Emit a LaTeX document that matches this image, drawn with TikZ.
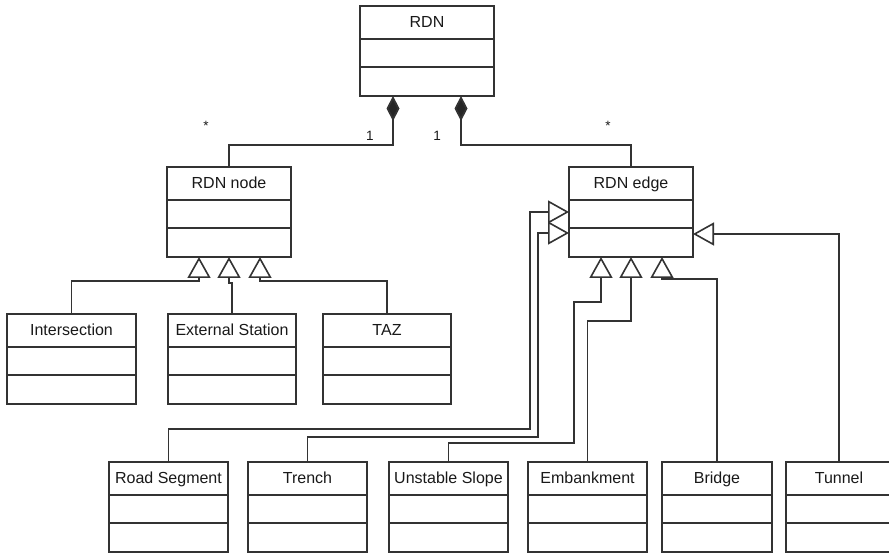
\documentclass[tikz,border=0pt]{standalone}
\usepackage{fontspec}
\setmainfont{Liberation Sans}
\usetikzlibrary{arrows.meta}
\tikzset{
  umlline/.style={draw=black!80, line width=1.8pt},
  umlbox/.style={umlline, rectangle, inner sep=0pt, outer sep=0pt, minimum height=90pt, fill=white},
  umllabel/.style={inner sep=0pt, text=black!90, font=\fontsize{16}{19}\selectfont},
  multlabel/.style={inner sep=0pt, text=black!90, font=\fontsize{13.5}{16}\selectfont},
  gen/.style={umlline, line join=miter, -{Triangle[open, length=21pt, width=23pt, line width=1.6pt]}},
  comp/.style={umlline, -{Diamond[length=25pt, width=13pt, fill=black!85]}}
}
\newcommand{\umlclassbox}[5]{%
  \node[umlbox, minimum width=#4, anchor=north west] (#1) at (#2,#3) {};
  \draw[umlline] ([yshift=-33pt]#1.north west) -- ([yshift=-33pt]#1.north east);
  \draw[umlline] ([yshift=-61pt]#1.north west) -- ([yshift=-61pt]#1.north east);
  \node[umllabel, anchor=base] (#1-t) at ([yshift=-21.5pt]#1.north) {#5};
}
\begin{document}
\begin{tikzpicture}[x=1pt, y=-1pt]
\useasboundingbox (0,0) rectangle (889,553);
\clip (0,0) rectangle (889,553);
\fill[white] (0,0) rectangle (889,553);

% boxes
\umlclassbox{rdn}{360}{6}{134pt}{RDN}
\umlclassbox{rnode}{167}{167}{124pt}{RDN node}
\umlclassbox{edge}{569}{167}{124pt}{RDN edge}
\umlclassbox{inter}{7}{314}{129pt}{Intersection}
\umlclassbox{ext}{168}{314}{128pt}{External Station}
\umlclassbox{taz}{323}{314}{128pt}{TAZ}
\umlclassbox{road}{109}{462}{119pt}{Road Segment}
\umlclassbox{trench}{248}{462}{119pt}{Trench}
\umlclassbox{slope}{389}{462}{119pt}{Unstable Slope}
\umlclassbox{emb}{528}{462}{119pt}{Embankment}
\umlclassbox{bridge}{662}{462}{110pt}{Bridge}
\umlclassbox{tunnel}{786}{462}{106pt}{Tunnel}

% compositions
\draw[comp] (rnode.north) |- (393,145) -- ([xshift=-34pt]rdn.south);
\draw[comp] (edge.north) |- (461,145) -- ([xshift=34pt]rdn.south);
\node[multlabel, anchor=base] (m1) at (370,141) {1};
\node[multlabel, anchor=base] (m2) at (437,141) {1};
\node[multlabel, anchor=base] (s1) at (206,131) {*};
\node[multlabel, anchor=base] (s2) at (608,131) {*};

% generalizations to RDN node
\draw[gen] (inter.north) |- (199,281) -- ([xshift=-30pt]rnode.south);
\draw[gen] (ext.north) |- (229,283) -- (rnode.south);
\draw[gen] (taz.north) |- (260,281) -- ([xshift=31pt]rnode.south);

% generalizations to RDN edge
\draw[gen] (road.north) |- (530,429) |- (edge.west);
\draw[gen] (trench.north) |- (538,437) |- ([yshift=-21pt]edge.west);
\draw[gen] (slope.north) |- (574,443) |- (601,302) -- ([xshift=-30pt]edge.south);
\draw[gen] (emb.north) |- (631,321) -- (edge.south);
\draw[gen] (bridge.north) |- (662,279) -- ([xshift=31pt]edge.south);
\draw[gen] (tunnel.north) |- ([yshift=-22pt]edge.east);
\end{tikzpicture}
\end{document}
